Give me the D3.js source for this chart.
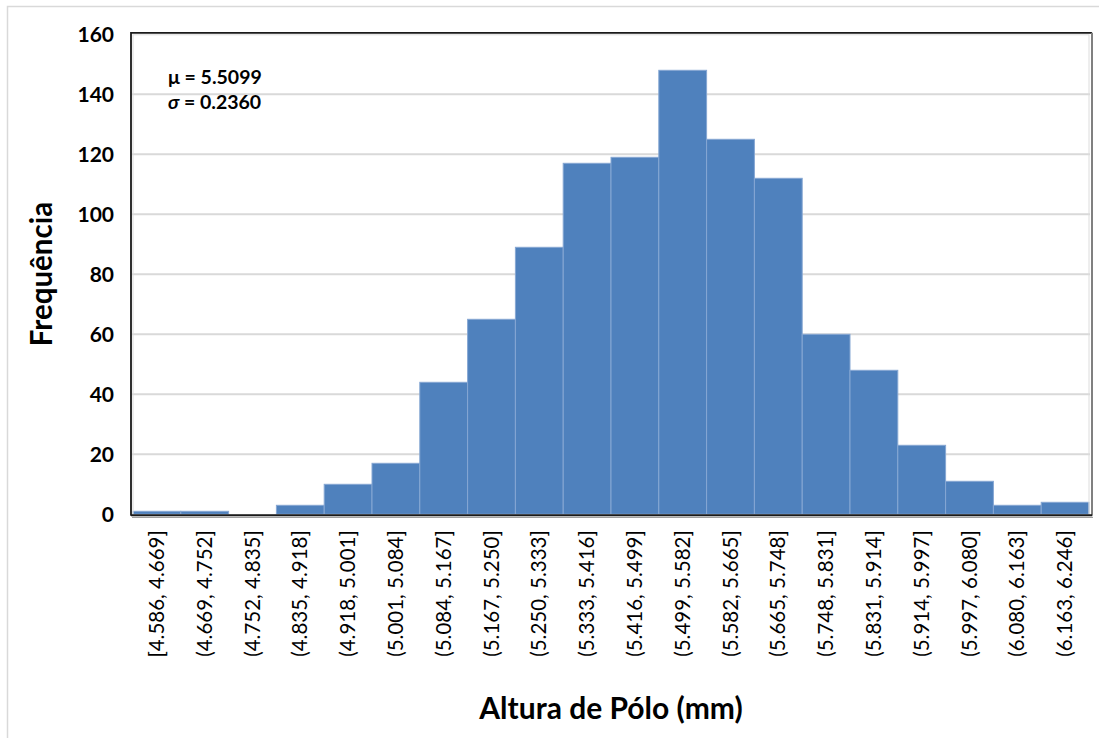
<!DOCTYPE html>
<html>
<head>
<meta charset="utf-8">
<script src="https://cdn.jsdelivr.net/npm/d3@7"></script>
<style>
  html, body { margin: 0; padding: 0; background: #fff; }
  svg { display: block; }
  text { font-family: Lato, "Open Sans", sans-serif; fill: #000; }
</style>
</head>
<body>
<svg id="chart" width="1099" height="738"></svg>
<script>
// Histogram bins (mm) and their frequencies
const binLabels = [
  "[4.586, 4.669]", "(4.669, 4.752]", "(4.752, 4.835]", "(4.835, 4.918]",
  "(4.918, 5.001]", "(5.001, 5.084]", "(5.084, 5.167]", "(5.167, 5.250]",
  "(5.250, 5.333]", "(5.333, 5.416]", "(5.416, 5.499]", "(5.499, 5.582]",
  "(5.582, 5.665]", "(5.665, 5.748]", "(5.748, 5.831]", "(5.831, 5.914]",
  "(5.914, 5.997]", "(5.997, 6.080]", "(6.080, 6.163]", "(6.163, 6.246]"
];
const frequencies = [1, 1, 0, 3, 10, 17, 44, 65, 89, 117, 119, 148, 125, 112, 60, 48, 23, 11, 3, 4];
const yTicks = [0, 20, 40, 60, 80, 100, 120, 140, 160];
const statLines = [
  { sym: "\u03bc", text: " = 5.5099", italic: false },
  { sym: "\u03c3", text: " = 0.2360", italic: true }
];

const svg = d3.select("#chart");

// Outer chart-area frame
svg.append("rect")
  .attr("x", 7.5).attr("y", 6.5)
  .attr("width", 1100).attr("height", 740)
  .attr("fill", "none").attr("stroke", "#d9d9d9").attr("stroke-width", 1.5);

const plot = { left: 132, right: 1090, top: 34.3, bottom: 514.3 };

const x = d3.scaleBand()
  .domain(binLabels)
  .range([plot.left + 1, plot.right - 1])
  .paddingInner(0).paddingOuter(0);

const y = d3.scaleLinear()
  .domain([0, 160])
  .range([plot.bottom, plot.top]);

// Horizontal gridlines
svg.append("g")
  .selectAll("line")
  .data(yTicks.filter(t => t > 0 && t < 160))
  .join("line")
  .attr("x1", plot.left).attr("x2", plot.right)
  .attr("y1", d => y(d)).attr("y2", d => y(d))
  .attr("stroke", "#d9d9d9").attr("stroke-width", 2);

// Bars
svg.append("g")
  .selectAll("rect")
  .data(frequencies.map((v, i) => ({ label: binLabels[i], value: v })))
  .join("rect")
  .filter(d => d.value > 0)
  .attr("x", d => x(d.label))
  .attr("y", d => y(d.value))
  .attr("width", x.bandwidth())
  .attr("height", d => y(0) - y(d.value))
  .attr("fill", "#4f81bd")
  .attr("stroke", "#86a7d3")
  .attr("stroke-width", 1);

// Plot-area border with a soft inner edge
svg.append("rect")
  .attr("x", plot.left + 1).attr("y", plot.top + 0.5)
  .attr("width", plot.right - plot.left - 2).attr("height", plot.bottom - plot.top)
  .attr("fill", "none").attr("stroke", "#dcdcdc").attr("stroke-width", 1);
svg.append("path")
  .attr("d", `M${plot.left - 1},${plot.bottom + 1.5} V${plot.top - 1.5} H${plot.right + 2}`)
  .attr("fill", "none").attr("stroke", "#1a1a1a").attr("stroke-width", 1.8);
svg.append("path")
  .attr("d", `M${plot.right + 2},${plot.top - 1.5} V${plot.bottom + 1.5}`)
  .attr("fill", "none").attr("stroke", "#808080").attr("stroke-width", 2);
svg.append("path")
  .attr("d", `M${plot.left - 1},${plot.bottom + 1} H${plot.right + 2}`)
  .attr("fill", "none").attr("stroke", "#1a1a1a").attr("stroke-width", 2);
svg.append("path")
  .attr("d", `M${plot.left},${plot.bottom + 3} H${plot.right + 3}`)
  .attr("fill", "none").attr("stroke", "#a0a0a0").attr("stroke-width", 1.2);

// Y axis
const yAxis = svg.append("g")
  .attr("transform", `translate(${plot.left - 1},0)`)
  .call(d3.axisLeft(y).tickValues(yTicks).tickSize(0).tickPadding(17));
yAxis.select(".domain").remove();
yAxis.selectAll("text")
  .attr("font-family", "Lato, sans-serif")
  .attr("font-size", 21).attr("font-weight", "bold").attr("fill", "#000");

// X axis (rotated bin labels)
const xAxis = svg.append("g")
  .attr("transform", `translate(0,${plot.bottom + 2})`)
  .call(d3.axisBottom(x).tickSize(0).tickPadding(0));
xAxis.select(".domain").remove();
xAxis.selectAll("text")
  .attr("font-family", "Lato, sans-serif")
  .attr("font-size", 20.5).attr("fill", "#000")
  .attr("transform", "rotate(-90)")
  .attr("text-anchor", "end")
  .attr("x", -14).attr("y", 0).attr("dy", "0.35em");

// Axis titles
svg.append("text")
  .attr("x", 611).attr("y", 719)
  .attr("text-anchor", "middle")
  .attr("font-size", 30).attr("font-weight", "bold")
  .text("Altura de Pólo (mm)");

svg.append("text")
  .attr("transform", "translate(52,274) rotate(-90)")
  .attr("text-anchor", "middle")
  .attr("font-size", 29.5).attr("font-weight", "bold")
  .text("Frequência");

// Summary statistics
const stats = svg.append("g");
statLines.forEach((s, i) => {
  const t = stats.append("text")
    .attr("x", 168).attr("y", 84 + i * 24.5)
    .attr("font-size", 19.5).attr("font-weight", "bold");
  t.append("tspan").attr("font-style", s.italic ? "italic" : "normal").text(s.sym);
  t.append("tspan").text(s.text);
});
</script>
</body>
</html>
